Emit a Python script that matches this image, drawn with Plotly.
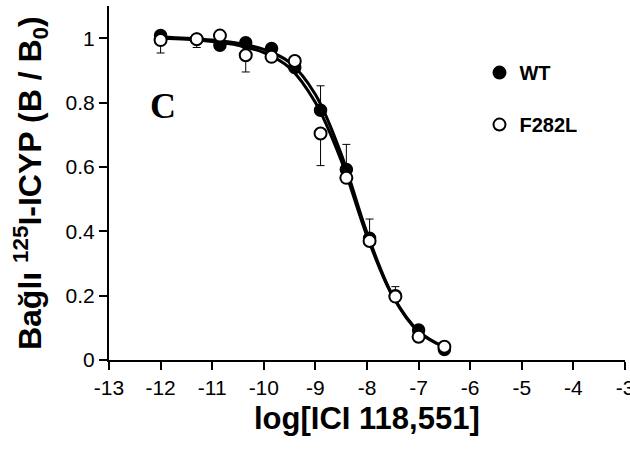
import plotly.graph_objects as go

# ---- data ----
log_conc = [-12, -11.3, -10.85, -10.35, -9.85, -9.4, -8.9, -8.4, -7.95, -7.45, -7.0, -6.5]
wt_vals = [1.008, 0.997, 0.978, 0.986, 0.968, 0.909, 0.776, 0.592, 0.378, 0.200, 0.093, 0.033]
wt_err_plus = [0, 0, 0, 0, 0, 0, 0.076, 0.078, 0.060, 0.028, 0, 0]
f282l_vals = [0.994, 0.997, 1.008, 0.947, 0.942, 0.929, 0.704, 0.566, 0.370, 0.197, 0.072, 0.041]
f282l_err_minus = [0.040, 0.026, 0, 0.052, 0, 0, 0.100, 0, 0, 0, 0, 0]

# fitted curves
curve_x = [-12, -11.5, -11, -10.5, -10, -9.5, -9, -8.5, -8, -7.5, -7, -6.5]
wt_fit = [1.004, 1.000, 0.994, 0.984, 0.965, 0.925, 0.825, 0.640, 0.395, 0.200, 0.090, 0.040]
f282l_fit = [1.000, 0.997, 0.990, 0.978, 0.955, 0.908, 0.800, 0.620, 0.385, 0.197, 0.087, 0.040]

x_ticks = [-13, -12, -11, -10, -9, -8, -7, -6, -5, -4, -3]
x_tick_labels = ["-13", "-12", "-11", "-10", "-9", "-8", "-7", "-6", "-5", "-4", "-3"]
y_ticks = [0, 0.2, 0.4, 0.6, 0.8, 1]
y_tick_labels = ["0", "0.2", "0.4", "0.6", "0.8", "1"]

SANS = "Liberation Sans, Arial, sans-serif"

fig = go.Figure()

fig.add_trace(go.Scatter(x=curve_x, y=wt_fit, mode="lines", line=dict(color="black", width=3, shape="spline"),
                         showlegend=False, hoverinfo="skip"))
fig.add_trace(go.Scatter(x=curve_x, y=f282l_fit, mode="lines", line=dict(color="black", width=3, shape="spline"),
                         showlegend=False, hoverinfo="skip"))

fig.add_trace(go.Scatter(
    x=log_conc, y=wt_vals, mode="markers", name="WT", legendgroup="wt",
    marker=dict(symbol="circle", size=12, color="black", line=dict(color="black", width=1.5)),
    error_y=dict(type="data", symmetric=False, array=wt_err_plus, arrayminus=[0] * len(wt_err_plus),
                 color="black", thickness=1, width=4),
))
fig.add_trace(go.Scatter(
    x=log_conc, y=f282l_vals, mode="markers", name="F282L", legendgroup="f",
    marker=dict(symbol="circle", size=12, color="white", line=dict(color="black", width=2)),
    error_y=dict(type="data", symmetric=False, array=[0] * len(f282l_err_minus), arrayminus=f282l_err_minus,
                 color="black", thickness=1, width=4),
))

fig.add_annotation(x=-11.95, y=0.79, xref="x", yref="y", text="<b>C</b>", showarrow=False,
                   font=dict(family="Liberation Serif, Times New Roman, serif", size=36, color="black"))

# axis titles
fig.add_annotation(x=0.5, y=-0.164, xref="paper", yref="paper", text="<b>log[ICI 118,551]</b>",
                   showarrow=False, xanchor="center", yanchor="middle",
                   font=dict(family=SANS, size=31, color="black"))
fig.add_annotation(x=-0.153, y=0.5, xref="paper", yref="paper",
                   text="<b>Bağlı <sup>125</sup>I-ICYP (B / B<sub>0</sub>)</b>", textangle=-90,
                   showarrow=False, xanchor="center", yanchor="middle",
                   font=dict(family=SANS, size=32, color="black"))

fig.update_layout(
    width=630, height=454,
    margin=dict(l=109, r=5, t=6, b=94, autoexpand=False),
    plot_bgcolor="white", paper_bgcolor="white",
    font=dict(family=SANS, color="black"),
    showlegend=True,
    legend=dict(x=0.718, y=0.867, xanchor="left", yanchor="top", bgcolor="rgba(0,0,0,0)",
                font=dict(family=SANS, size=20, color="black", weight="bold"),
                tracegroupgap=23, itemsizing="constant"),
    xaxis=dict(range=[-13, -3], tickmode="array", tickvals=x_ticks, ticktext=x_tick_labels,
               showline=True, linecolor="black", linewidth=2, ticks="outside", ticklen=8, tickwidth=1.5,
               tickcolor="black", showgrid=False, zeroline=False, automargin=False,
               ticklabeloverflow="allow",
               tickfont=dict(family=SANS, size=21, color="black")),
    yaxis=dict(range=[0, 1.1], tickmode="array", tickvals=y_ticks, ticktext=y_tick_labels,
               showline=True, linecolor="black", linewidth=2, ticks="outside", ticklen=8, tickwidth=1.5,
               tickcolor="black", showgrid=False, zeroline=False, automargin=False,
               tickfont=dict(family=SANS, size=21, color="black")),
)

fig.write_html("out.html", config={"displayModeBar": False},
               post_script="document.body.style.margin='0';document.body.style.overflow='hidden';")
